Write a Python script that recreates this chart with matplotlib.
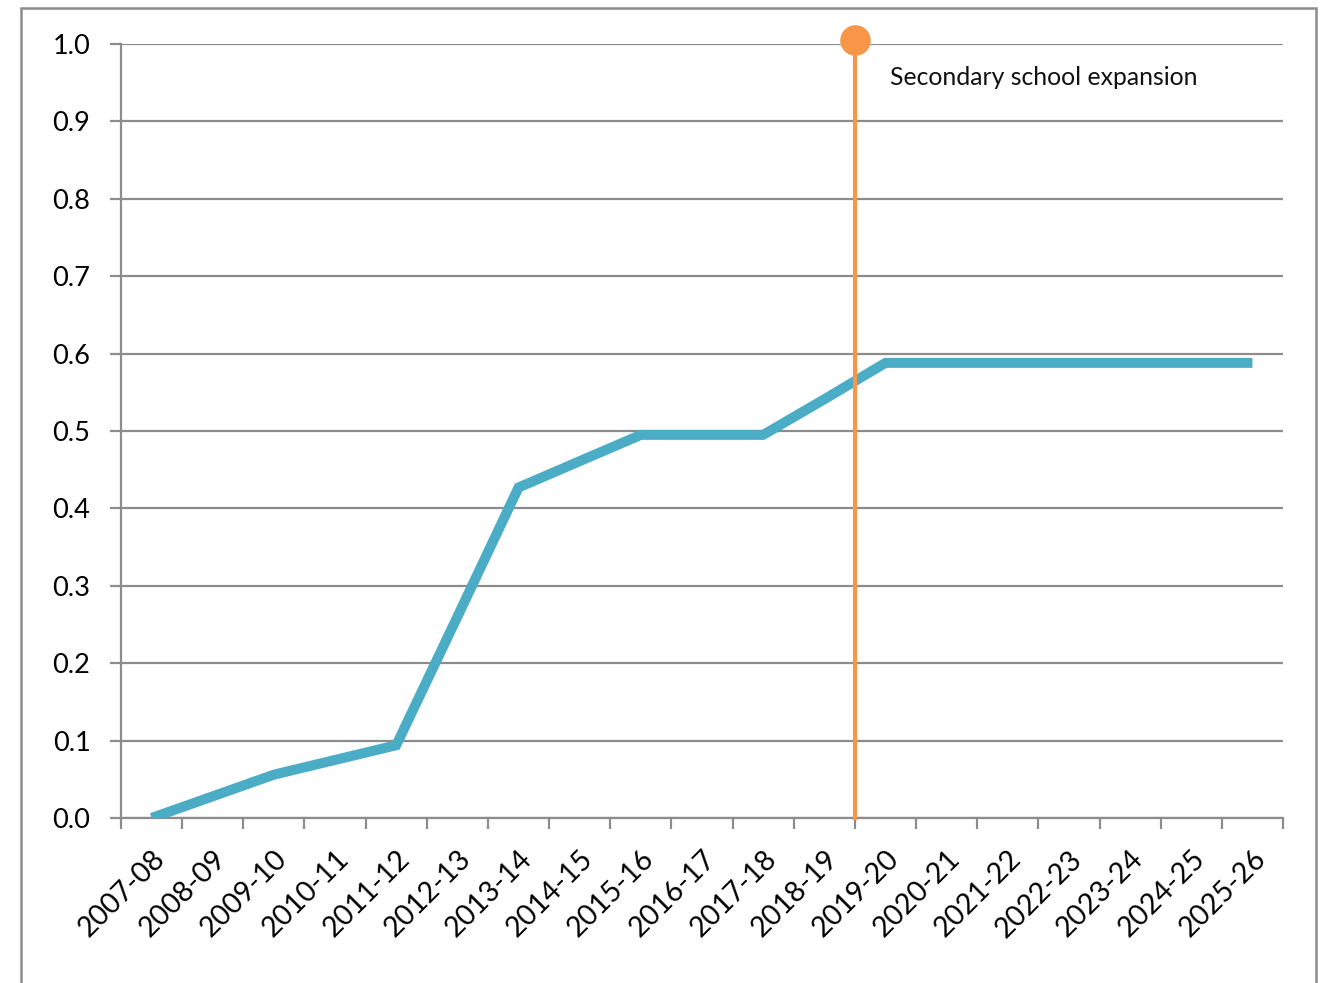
import matplotlib.pyplot as plt
from matplotlib.patches import Rectangle

# school years on the category axis
years = ["2007-08", "2008-09", "2009-10", "2010-11", "2011-12", "2012-13",
         "2013-14", "2014-15", "2015-16", "2016-17", "2017-18", "2018-19",
         "2019-20", "2020-21", "2021-22", "2022-23", "2023-24", "2024-25",
         "2025-26"]
values = [0.0, 0.028, 0.056, 0.075, 0.094, 0.26, 0.427, 0.461, 0.495, 0.495,
          0.495, 0.541, 0.588, 0.588, 0.588, 0.588, 0.588, 0.588, 0.588]
y_ticks = [0.0, 0.1, 0.2, 0.3, 0.4, 0.5, 0.6, 0.7, 0.8, 0.9, 1.0]
event_label = "Secondary school expansion"
event_after = "2018-19"  # marker sits on the boundary after this year

plt.rcParams["font.family"] = ["Lato", "DejaVu Sans"]

fig = plt.figure(figsize=(13.32, 9.83), dpi=100)
W, H = 1332, 983
ax = fig.add_axes([121 / W, (H - 818) / H, 1162 / W, 774 / H])

# outer chart frame (bottom edge falls off the image)
fig.patches.append(Rectangle((21 / W, -0.05), (1316 - 21) / W, (H - 8) / H + 0.05,
                             transform=fig.transFigure, fill=False,
                             edgecolor="#8c8c8c", linewidth=1.8))

grid_col = "#8c8c8c"
x = list(range(len(years)))

for yv in y_ticks:
    ax.axhline(yv, color=grid_col, linewidth=1.6, zorder=1)

ax.plot(x, values, color="#4BACC6", linewidth=7.2, solid_joinstyle="miter",
        solid_capstyle="butt", zorder=3)

ev_x = years.index(event_after) + 0.5
ax.plot([ev_x, ev_x], [0, 1.005], color="#F79646", linewidth=3, zorder=4,
        clip_on=False)
ax.plot([ev_x], [1.005], marker="o", markersize=22, color="#F79646",
        markeredgewidth=0, zorder=5, clip_on=False)
ax.text(ev_x + 0.57, 0.957, event_label, fontsize=17.8, color="#111111",
        va="center", ha="left")

ax.set_xlim(-0.5, len(years) - 0.5)
ax.set_ylim(0, 1.0)

ax.set_yticks(y_ticks)
ax.set_yticklabels([f"{v:.1f}" for v in y_ticks])

# category ticks at boundaries, labels at centres
ax.set_xticks([i - 0.5 for i in range(len(years) + 1)])
ax.set_xticklabels([])
ax.set_xticks(x, minor=True)
ax.set_xticklabels(years, minor=True, rotation=45, ha="right",
                   rotation_mode="anchor")
ax.tick_params(axis="x", which="minor", length=0, pad=20, labelsize=20.5)
ax.tick_params(axis="x", which="major", length=8, width=1.6, color=grid_col,
               direction="out")
ax.tick_params(axis="y", length=8, width=1.6, color=grid_col, pad=14,
               labelsize=19.5)

for s in ["top", "right"]:
    ax.spines[s].set_visible(False)
for s in ["left", "bottom"]:
    ax.spines[s].set_color(grid_col)
    ax.spines[s].set_linewidth(1.6)

fig.savefig("out.png", dpi=100)
